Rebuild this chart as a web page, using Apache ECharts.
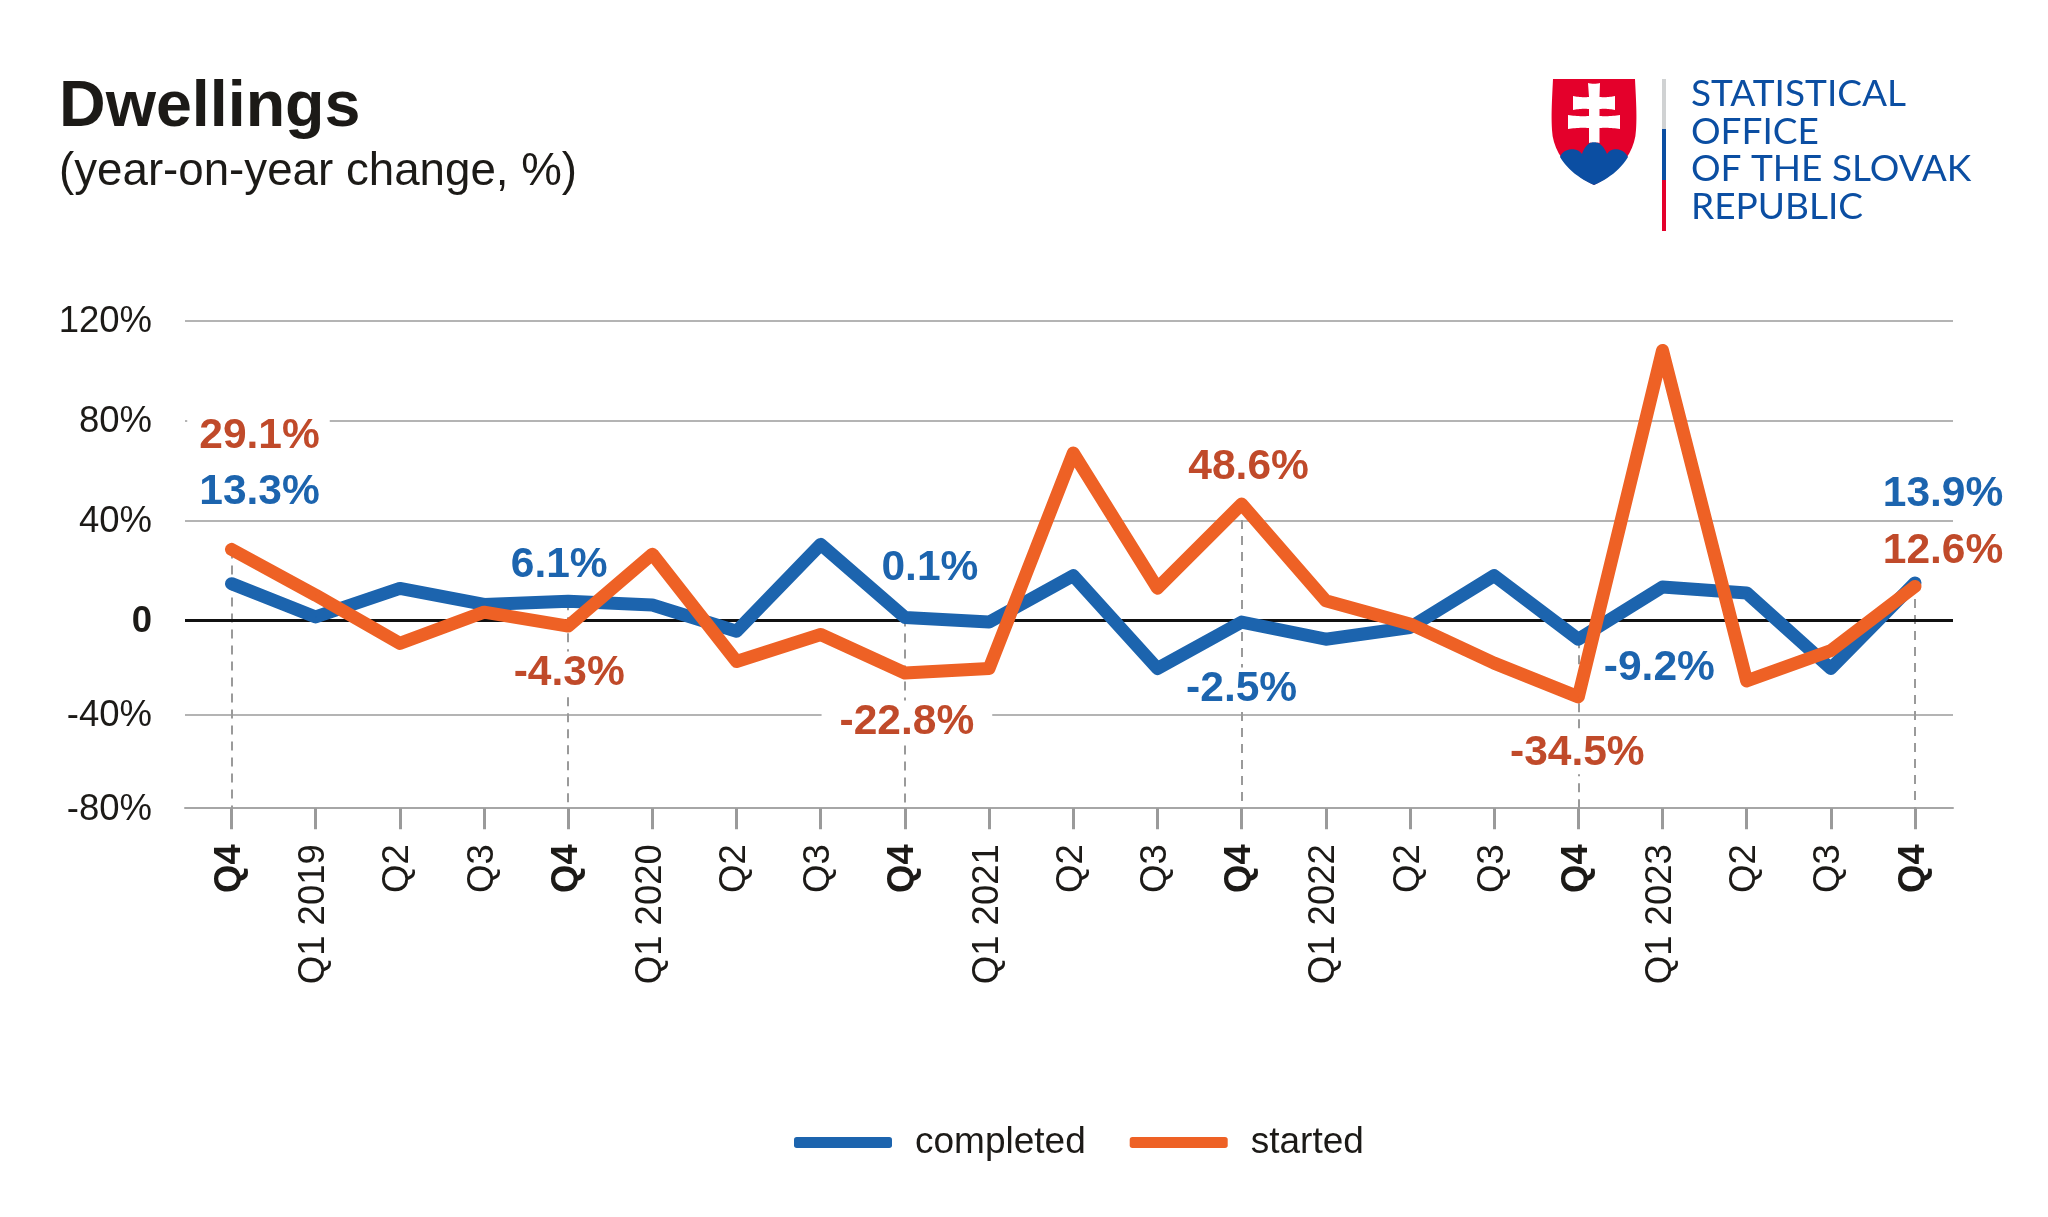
<!DOCTYPE html>
<html><head><meta charset="utf-8">
<style>html,body{margin:0;padding:0;background:#fff}#c{width:2048px;height:1217px}</style>
<script src="https://cdn.jsdelivr.net/npm/echarts@6/dist/echarts.min.js"></script>
</head><body><div id="c"></div>
<script>
const categories = ['Q4','Q1 2019','Q2','Q3','Q4','Q1 2020','Q2','Q3','Q4','Q1 2021','Q2','Q3','Q4','Q1 2022','Q2','Q3','Q4','Q1 2023','Q2','Q3','Q4'];
const completed = [14.8,1.5,12.9,6.5,7.8,6.3,-4.5,30.5,1.3,-0.6,18,-20.4,-0.6,-7.9,-2.9,18,-7.9,13.5,11.1,-20.4,15.1];
const started = [28.5,10.2,-9.7,3.4,-2.3,26.6,-17.4,-5.9,-22.3,-20.4,67,13,46.6,8,-1.4,-18.1,-32.5,108,-25.7,-12.8,13.7];
const completedLabels = {0:'13.3%',4:'6.1%',8:'0.1%',12:'-2.5%',16:'-9.2%',20:'13.9%'};
const startedLabels = {0:'29.1%',4:'-4.3%',8:'-22.8%',12:'48.6%',16:'-34.5%',20:'12.6%'};
const yTicks = [-80,-40,0,40,80,120];
const q4Index = [0,4,8,12,16,20];

// The reference's axis is drawn with a tighter scale below zero than above it.
const NEG = 0.9366;
const toAxis = v => v < 0 ? v * NEG : v;
const font = '"Liberation Sans", Arial, sans-serif';
const BLUE = '#1c64ae', ORANGE = '#ee6125', RED = '#c04a2a', INK = '#1c1a17', GREY = '#a6a6a6';

const completedPlace = {0:[28,-91],4:[-9,-36],8:[25,-49],12:[0,67],16:[81,29],20:[28,-89]};
const startedPlace = {0:[27,-113],4:[1,47],8:[2,49],12:[7,-37],16:[-1,56],20:[28,-35]};
const backed = {completed:{0:1,12:1}, started:{0:[0,10,0,12],4:[0,4],8:[0,18],16:[0,4]}};

function points(values, texts, place, color, pads) {
  return values.map((v, i) => {
    const item = {value: [i, toAxis(v)]};
    if (texts[i]) {
      item.label = {show: true, formatter: texts[i], position: 'inside', offset: place[i],
        color, fontFamily: font, fontWeight: 'bold', fontSize: 42.5, align: 'center', verticalAlign: 'middle'};
      if (pads && pads[i]) { item.label.backgroundColor = '#fff'; item.label.padding = pads[i] === 1 ? [0,4] : pads[i]; }
    }
    return item;
  });
}
const drops = q4Index.map(i => [
  {coord: [i, Math.max(toAxis(completed[i]), toAxis(started[i]))], lineStyle: {color: '#9a9a9a', width: 2, type: [9,7]}},
  {coord: [i, toAxis(-80)]}
]);

// Flattens the logo outlines (M/L/C/Z, absolute) into polygon points.
function outline(d) {
  const n = d.match(/[MLCZ]|-?[\d.]+/g), pts = []; let i = 0, c = 'M';
  while (i < n.length) {
    if (/[MLCZ]/.test(n[i])) { c = n[i++]; if (c === 'Z') break; }
    if (c === 'C') {
      const p0 = pts[pts.length-1], a = n.slice(i, i+6).map(Number); i += 6;
      for (let k = 1; k <= 12; k++) { const t = k/12, u = 1-t;
        pts.push([u*u*u*p0[0]+3*u*u*t*a[0]+3*u*t*t*a[2]+t*t*t*a[4], u*u*u*p0[1]+3*u*u*t*a[1]+3*u*t*t*a[3]+t*t*t*a[5]]); }
    } else { pts.push([+n[i], +n[i+1]]); i += 2; }
  }
  return pts;
}

const chart = echarts.init(document.getElementById('c'), null, {renderer: 'canvas', width: 2048, height: 1217});
chart.setOption({
  animation: false,
  backgroundColor: '#fff',
  textStyle: {fontFamily: font},
  title: {
    text: 'Dwellings', subtext: '(year-on-year change, %)', left: 54, top: 68, itemGap: 4,
    textStyle: {fontFamily: font, fontWeight: 'bold', fontSize: 64.6, color: INK, lineHeight: 70},
    subtextStyle: {fontFamily: font, fontSize: 45.7, color: INK, lineHeight: 50}
  },
  grid: {left: 185, width: 1768, top: 320.4, height: 487.8, containLabel: false},
  xAxis: {
    type: 'value', min: -0.5524, max: 20.4514, splitLine: {show: false},
    axisLine: {onZero: false, lineStyle: {color: GREY, width: 2}},
    axisTick: {show: true, length: 21, customValues: categories.map((_, i) => i), lineStyle: {color: '#9a9a9a', width: 3}},
    axisLabel: {
      customValues: categories.map((_, i) => i), rotate: 90, margin: 36, color: INK, fontSize: 36.5, fontFamily: font,
      padding: [0,0,3,0],
      formatter: v => categories[v] === 'Q4' ? '{b|Q4}' : categories[v],
      rich: {b: {fontWeight: 'bold', fontSize: 36.5, fontFamily: font, color: INK}}
    }
  },
  yAxis: {
    type: 'value', min: toAxis(-80), max: 120,
    axisLine: {show: false}, axisTick: {show: false, customValues: yTicks.map(toAxis)},
    splitLine: {show: true, lineStyle: {color: '#b4b4b4', width: 2}},
    axisLabel: {
      customValues: yTicks.map(toAxis), margin: 33, color: INK, fontSize: 36.5, fontFamily: font, padding: [3,0,0,0],
      formatter: v => { const t = yTicks.find(k => Math.abs(toAxis(k) - v) < 0.01); return t === 0 ? '{b|0}' : t + '%'; },
      rich: {b: {fontWeight: 'bold', fontSize: 36.5, fontFamily: font, color: INK}}
    }
  },
  legend: {
    data: ['completed', 'started'], left: 789, top: 1119, icon: 'roundRect', itemWidth: 98, itemHeight: 11, itemGap: 44,
    textStyle: {fontFamily: font, fontSize: 37, color: INK, padding: [0,0,0,18]}
  },
  series: [
    {name: 'completed', type: 'line', z: 3, symbol: 'circle', symbolSize: 1, showAllSymbol: true,
     itemStyle: {color: BLUE}, lineStyle: {color: BLUE, width: 13, cap: 'round', join: 'round'},
     data: points(completed, completedLabels, completedPlace, BLUE, backed.completed),
     markLine: {silent: true, z: 1, symbol: 'none', label: {show: false}, animation: false,
       data: [...drops, {yAxis: 0, lineStyle: {color: '#111', width: 3, type: 'solid'}}]}},
    {name: 'started', type: 'line', z: 4, symbol: 'circle', symbolSize: 1, showAllSymbol: true,
     itemStyle: {color: ORANGE}, lineStyle: {color: ORANGE, width: 13, cap: 'round', join: 'round'},
     data: points(started, startedLabels, startedPlace, RED, backed.started)}
  ],
  graphic: [
    {type: 'polygon', z: 10, shape: {points: outline('M1553 79 L1635 79 C1636 100 1637 115 1636 130 C1635 155 1615 175 1594 185 C1573 175 1553 155 1552 130 C1551 115 1552 100 1553 79 Z')}, style: {fill: '#e4002b'}},
    {type: 'polygon', z: 11, shape: {points: outline('M1560 157 C1562 150 1575 145 1582 154 C1585 145 1590 142 1594 142 C1600 142 1604 147 1607 154 C1613 145 1625 150 1628 157 C1620 170 1608 179 1594 185 C1580 179 1568 170 1560 157 Z')}, style: {fill: '#0b4ea2'}},
    {type: 'polygon', z: 12, shape: {points: outline('M1588 83 C1592 84 1596 84 1600 83 L1599.5 97 C1605 97.5 1610 97 1615 96 L1615 110 C1610 109 1605 108.5 1599.5 109 L1599.5 116 C1606 116.5 1613 116 1620 115 L1620 129 C1613 128 1606 127.5 1599.5 128 L1599.5 143 C1596 142 1592 142 1589 143 L1589 128 C1582 127.5 1575 128 1568 129 L1568 115 C1575 116 1582 116.5 1589 116 L1589 109 C1584 108.5 1578 109 1573 110 L1573 96 C1578 97 1584 97.5 1589 97 Z')}, style: {fill: '#fff'}},
    {type: 'rect', shape: {x: 1662, y: 79, width: 4, height: 50}, style: {fill: '#d0d2d3'}},
    {type: 'rect', shape: {x: 1662, y: 129, width: 4, height: 51}, style: {fill: '#0b4ea2'}},
    {type: 'rect', shape: {x: 1662, y: 180, width: 4, height: 51}, style: {fill: '#e4002b'}},
    ...['STATISTICAL','OFFICE','OF THE SLOVAK','REPUBLIC'].map((t, i) => ({
      type: 'text', x: 1691, y: [76,114,151,189][i],
      style: {text: t, fill: '#0b4ea2', font: '37px Lato, "Open Sans", sans-serif'}
    }))
  ]
});
</script></body></html>
